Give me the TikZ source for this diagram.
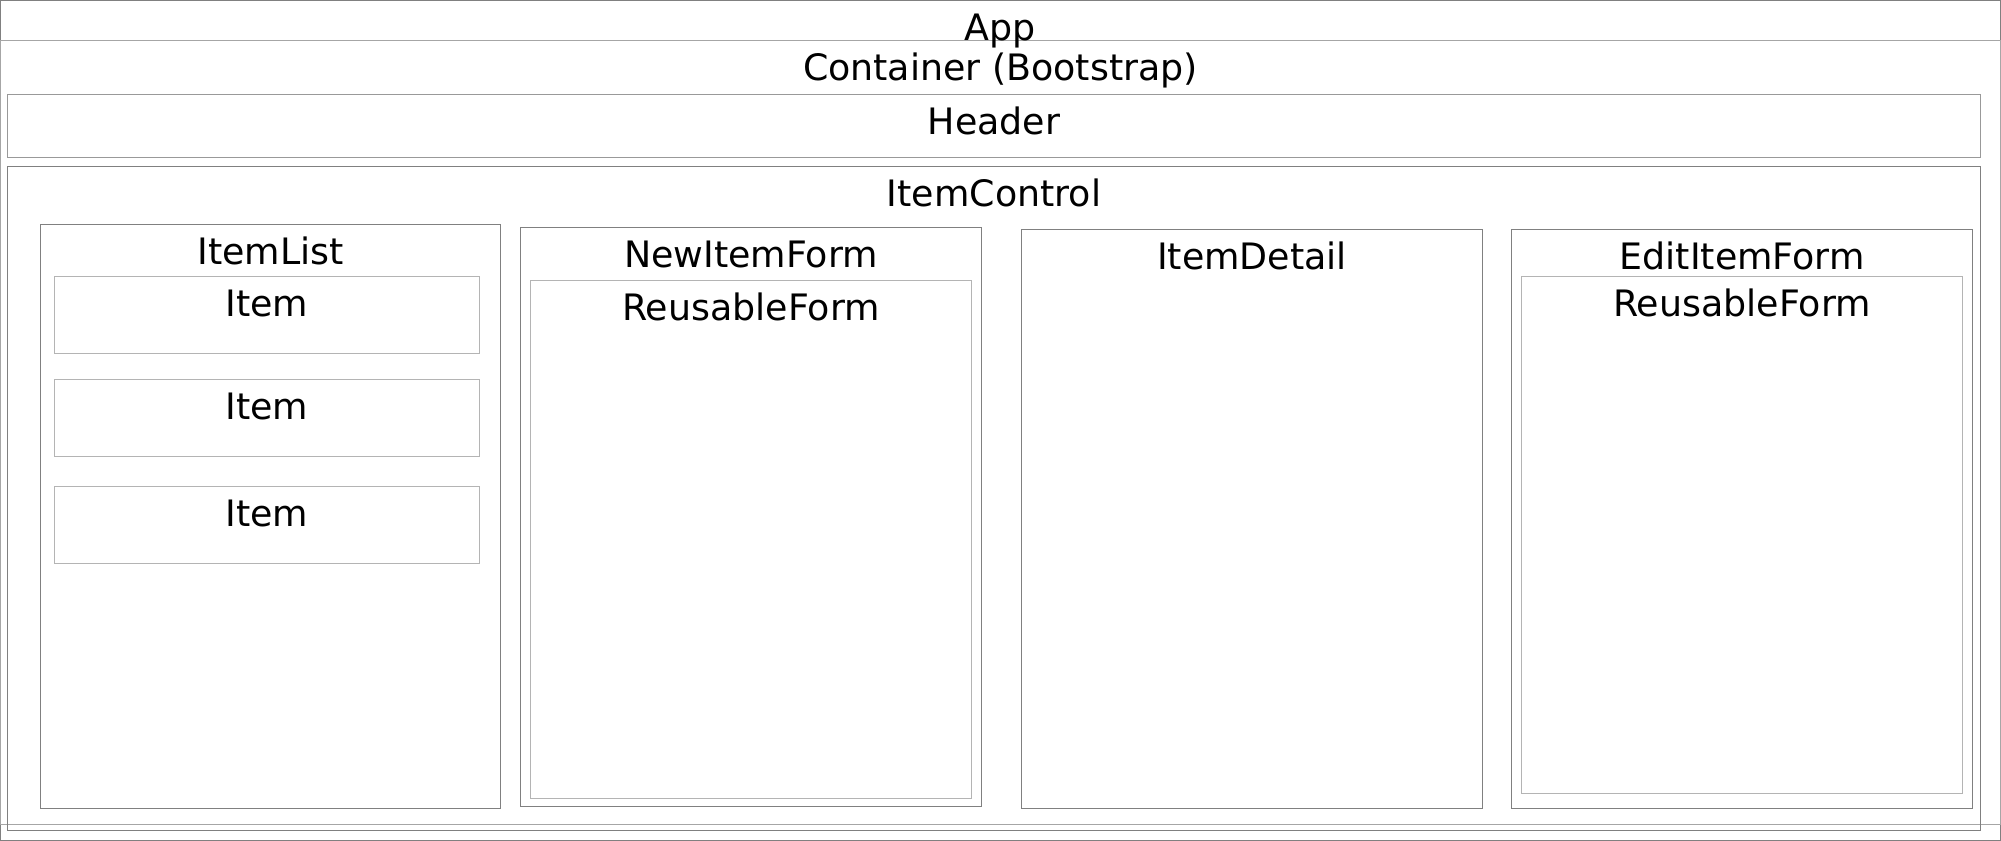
\documentclass[tikz,border=0pt]{standalone}
\usepackage{fontspec}
\setmainfont{DejaVu Sans}
\usepackage{tikz}
\usetikzlibrary{fit}
\definecolor{edgegray}{HTML}{808080}
\definecolor{softgray}{HTML}{B4B4B4}

\begin{document}
\begin{tikzpicture}[
    box/.style={draw=edgegray, line width=0.35pt, inner sep=0pt},
    softbox/.style={draw=softgray, line width=0.35pt, inner sep=0pt},
    lbl/.style={anchor=base, inner sep=0pt, font=\fontsize{10.35}{12}\selectfont}
  ]
  \useasboundingbox (-0.005,0.005) rectangle (20.005,-8.405);
  % outer frames
  \node [box, fit={(0,0) (20,-8.4)}] (app) {};
  \node [box, draw=edgegray!70, fit={(0,-0.40) (20,-8.24)}] (container) {};
  \node [box, draw=edgegray!80, fit={(0.07,-0.94) (19.80,-1.57)}] (header) {};
  \node [box, fit={(0.07,-1.66) (19.80,-8.30)}] (itemcontrol) {};
  % columns
  \node [box, fit={(0.40,-2.24) (5.00,-8.08)}] (itemlist) {};
  \node [softbox, fit={(0.54,-2.76) (4.79,-3.53)}] (item1) {};
  \node [softbox, fit={(0.54,-3.79) (4.79,-4.56)}] (item2) {};
  \node [softbox, fit={(0.54,-4.86) (4.79,-5.63)}] (item3) {};
  \node [box, fit={(5.20,-2.27) (9.81,-8.06)}] (newitemform) {};
  \node [softbox, fit={(5.30,-2.80) (9.71,-7.98)}] (reusable1) {};
  \node [box, fit={(10.21,-2.29) (14.82,-8.08)}] (itemdetail) {};
  \node [box, fit={(15.11,-2.29) (19.72,-8.08)}] (edititemform) {};
  \node [softbox, fit={(15.21,-2.76) (19.62,-7.93)}] (reusable2) {};
  % labels
  \node [lbl] (appL) at ([yshift=-4.1mm]app.north) {App};
  \node [lbl] (containerL) at ([yshift=-4.1mm]container.north) {Container (Bootstrap)};
  \node [lbl] (headerL) at ([yshift=-4.1mm]header.north) {Header};
  \node [lbl] (itemcontrolL) at ([yshift=-4.1mm]itemcontrol.north) {ItemControl};
  \node [lbl] (itemlistL) at ([yshift=-4.1mm]itemlist.north) {ItemList};
  \node [lbl] (item1L) at ([yshift=-4.1mm]item1.north) {Item};
  \node [lbl] (item2L) at ([yshift=-4.1mm]item2.north) {Item};
  \node [lbl] (item3L) at ([yshift=-4.1mm]item3.north) {Item};
  \node [lbl] (newitemformL) at ([yshift=-4.1mm]newitemform.north) {NewItemForm};
  \node [lbl] (reusable1L) at ([yshift=-4.1mm]reusable1.north) {ReusableForm};
  \node [lbl] (itemdetailL) at ([yshift=-4.1mm]itemdetail.north) {ItemDetail};
  \node [lbl] (edititemformL) at ([yshift=-4.1mm]edititemform.north) {EditItemForm};
  \node [lbl] (reusable2L) at ([yshift=-4.1mm]reusable2.north) {ReusableForm};
\end{tikzpicture}
\end{document}
